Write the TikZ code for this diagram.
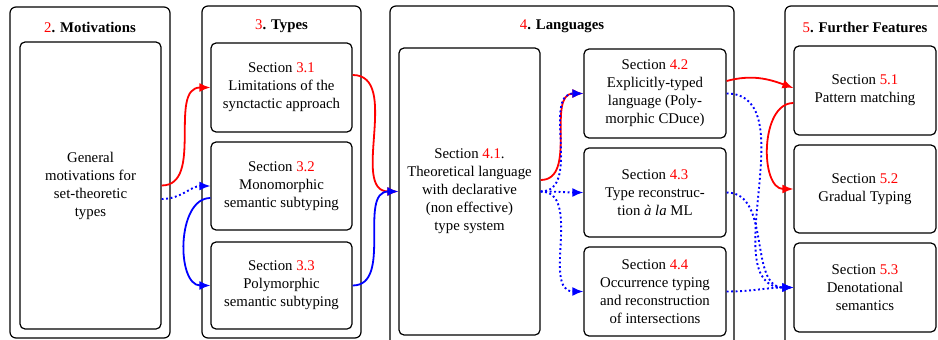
\documentclass[tikz,border=0pt]{standalone}
\usepackage{fontspec}
\setmainfont{Liberation Serif}
\usetikzlibrary{arrows.meta}
\newcommand{\rn}[1]{\textcolor{red}{#1}}
\tikzset{
  outerbox/.style={draw, line width=1.2pt, rounded corners=6pt, inner sep=0pt},
  secbox/.style={draw, line width=1.2pt, rounded corners=5pt, align=center, inner sep=0pt,
    font=\fontsize{14.8}{18}\selectfont},
  ttl/.style={font=\fontsize{14.8}{18}\selectfont, inner sep=0pt},
  redarr/.style={draw=red, line width=1.8pt, -{Latex[length=11pt,width=9pt]}},
  bluearr/.style={draw=blue, line width=1.8pt, -{Latex[length=11pt,width=9pt]}},
  bluedot/.style={draw=blue, line width=1.9pt, dash pattern=on 1.9pt off 2.6pt, -{Latex[length=11pt,width=9pt]}},
}
\begin{document}
\begin{tikzpicture}[x=1pt,y=-1pt]
\useasboundingbox (0,0) rectangle (938,340);
\clip (0,0) rectangle (938,340);
\fill[white] (0,0) rectangle (938,340);
% outer boxes
\node[outerbox, minimum width=160pt, minimum height=331pt] (o2) at (90,172.5) {};
\node[outerbox, minimum width=159pt, minimum height=332pt] (o3) at (281.5,172) {};
\node[outerbox, minimum width=344pt, minimum height=345pt] (o4) at (562,178.5) {};
\node[outerbox, minimum width=160pt, minimum height=345pt] (o5) at (865,178.5) {};
% titles
\node[ttl] (t2) at (90,27) {\rn{2}\textbf{. Motivations}};
\node[ttl] (t3) at (281.5,26) {\rn{3}\textbf{. Types}};
\node[ttl] (t4) at (562,26) {\rn{4}\textbf{. Languages}};
\node[ttl] (t5) at (865,27) {\rn{5}\textbf{. Further Features}};
% inner boxes
\node[secbox, minimum width=141pt, minimum height=287pt] (m) at (90.5,185.5)
  {General\\motivations for\\set-theoretic\\types};
\node[secbox, minimum width=141pt, minimum height=89pt] (s31) at (281.5,87.5)
  {Section \rn{3.1}\\Limitations of the\\synctactic approach};
\node[secbox, minimum width=141pt, minimum height=88pt] (s32) at (281.5,186)
  {Section \rn{3.2}\\Monomorphic\\semantic subtyping};
\node[secbox, minimum width=141pt, minimum height=87pt] (s33) at (281.5,285.5)
  {Section \rn{3.3}\\Polymorphic\\semantic subtyping};
\node[secbox, minimum width=141pt, minimum height=287pt] (s41) at (469.5,191.5)
  {Section \rn{4.1}.\\Theoretical language\\with declarative\\(non effective)\\type system};
\node[secbox, minimum width=142pt, minimum height=89pt] (s42) at (655,93.5)
  {Section \rn{4.2}\\Explicitly-typed\\language (Poly-\\morphic CDuce)};
\node[secbox, minimum width=142pt, minimum height=89pt] (s43) at (655,192.5)
  {Section \rn{4.3}\\Type reconstruc-\\tion \emph{à la} ML};
\node[secbox, minimum width=142pt, minimum height=89pt] (s44) at (655,291.5)
  {Section \rn{4.4}\\Occurrence typing\\and reconstruction\\of intersections};
\node[secbox, minimum width=142pt, minimum height=89pt] (s51) at (865,90.5)
  {Section \rn{5.1}\\Pattern matching};
\node[secbox, minimum width=142pt, minimum height=88pt] (s52) at (865,189)
  {Section \rn{5.2}\\Gradual Typing};
\node[secbox, minimum width=142pt, minimum height=89pt] (s53) at (865,287.5)
  {Section \rn{5.3}\\Denotational\\semantics};
% connectors
\draw[redarr] (m.east) to[out=0,in=180] (s31.west);
\draw[bluedot] ([yshift=-13.5pt]m.east) to[out=0,in=180] (s32.west);
\draw[bluearr] ([yshift=-12pt]s32.west) to[out=180,in=180] (s33.west);
\draw[redarr] ([yshift=12.5pt]s31.east) to[out=0,in=180] (s41.west);
\draw[bluearr] (s33.east) to[out=0,in=180] (s41.west);
\draw[redarr] ([yshift=11.5pt]s41.east) to[out=0,in=180] (s42.west);
\draw[bluedot] (s41.east) to[out=0,in=180] (s42.west);
\draw[bluedot] (s41.east) to[out=0,in=180] (s43.west);
\draw[bluedot] (s41.east) to[out=0,in=180] (s44.west);
\draw[redarr] ([yshift=12.5pt]s42.east) to[out=15,in=160] ([yshift=2.5pt]s51.west);
\draw[bluedot] (s42.east) to[out=0,in=180] (s53.west);
\draw[bluedot] (s43.east) to[out=0,in=180] (s53.west);
\draw[bluedot] (s44.east) to[out=0,in=180] (s53.west);
\draw[redarr] ([yshift=-12.5pt]s51.west) to[out=180,in=180] (s52.west);
\end{tikzpicture}
\end{document}
